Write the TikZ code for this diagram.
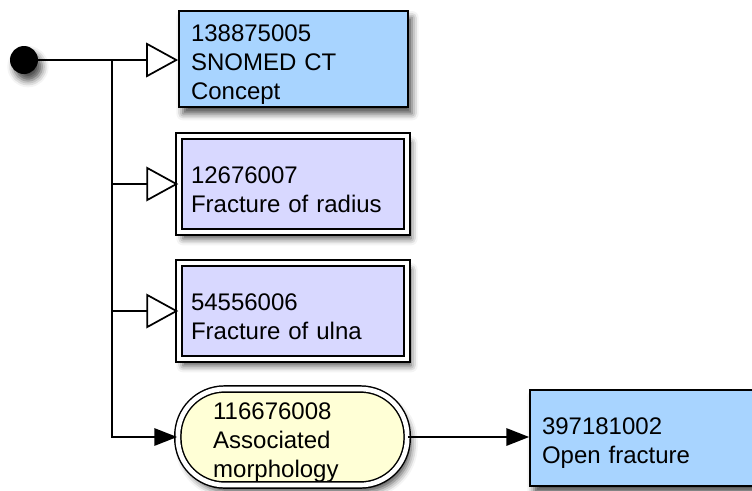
\documentclass[tikz,border=0pt]{standalone}
\usepackage{fontspec}
\setmainfont{Liberation Sans}
\usetikzlibrary{arrows.meta,shadows.blur}
\definecolor{conceptblue}{RGB}{168,212,255}
\definecolor{childlilac}{RGB}{216,216,255}
\definecolor{attrcream}{RGB}{255,255,214}

\begin{document}
\begin{tikzpicture}[
  x=0.75pt, y=-0.75pt,
  font=\fontsize{18}{21.75}\selectfont,
  shade/.style={blur shadow={shadow xshift=3pt, shadow yshift=-5pt, shadow blur radius=5pt, shadow opacity=70}},
  box/.style={draw, shade, align=left, inner ysep=0pt, inner xsep=9pt, anchor=center,
    execute at begin node={\rule{0pt}{20.5pt}}},
  concept/.style={box, line width=1.3pt, fill=conceptblue, minimum height=72pt},
  child/.style={box, line width=1.1pt, double=white, double distance=3.5pt, fill=childlilac, minimum height=72pt, text width=153pt},
  attr/.style={box, line width=1.1pt, double=white, double distance=3.5pt, fill=attrcream, rounded corners=35pt, inner xsep=26.5pt, minimum height=72pt, text width=119pt},
  isa/.style={line width=1.3pt, -{Triangle[length=24pt, width=26pt, fill=white]}},
  has/.style={line width=1.3pt, -{Triangle[length=17pt, width=13pt]}}
]
\useasboundingbox (0,0) rectangle (752,490);

\node[circle, fill=black, shade, minimum size=21pt, inner sep=0pt] (root) at (24,60) {};
\node[concept, text width=153.75pt] (snomed) at (293.5,59) {138875005\\SNOMED CT\\Concept};
\node[child] (radius) at (293,184) {12676007\\Fracture of radius};
\node[child] (ulna) at (293,311) {54556006\\Fracture of ulna};
\node[attr] (morph) at (292.5,437) {116676008\\Associated\\morphology};
\node[concept, text width=177pt] (openfx) at (660,438) {397181002\\Open fracture};

\coordinate (fork) at (112,60);

\draw[isa] (root) -- (root -| snomed.west);
\draw[isa] (fork |- radius) -- (radius);
\draw[isa] (fork |- ulna) -- (ulna);
\draw[has] (fork) |- (morph.west);
\draw[has] (morph) -- (morph -| openfx.west);
\end{tikzpicture}
\end{document}
